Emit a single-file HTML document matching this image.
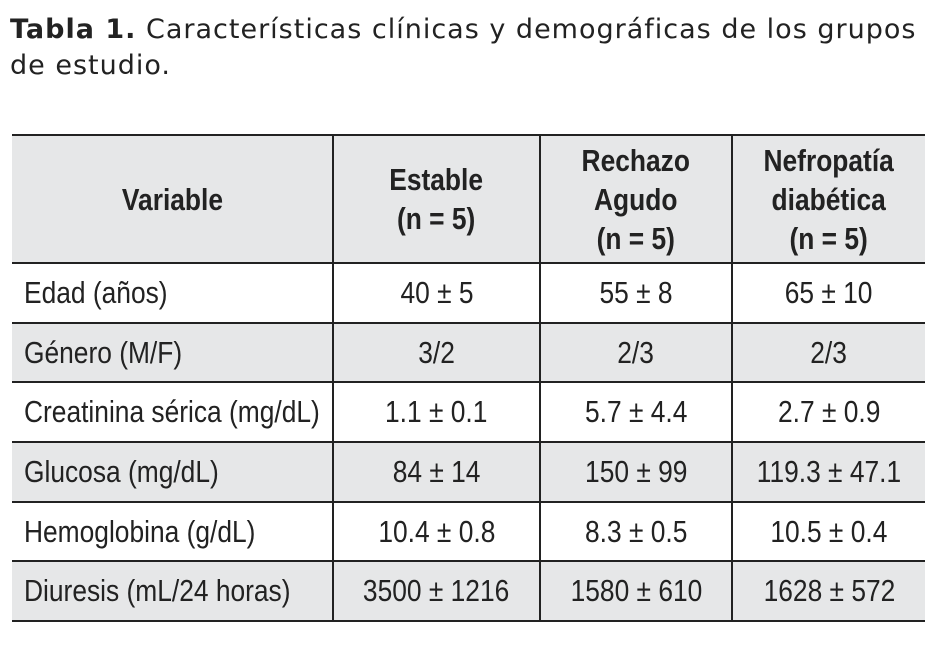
<!DOCTYPE html>
<html><head><meta charset="utf-8">
<style>
body{margin:0;width:941px;height:650px;background:#fff;overflow:hidden;position:relative;}
.title{position:absolute;left:10px;top:12px;font-family:"DejaVu Sans","Liberation Sans",sans-serif;font-size:27px;line-height:36px;color:#222;white-space:nowrap;letter-spacing:1.0px}
table{position:absolute;left:12px;top:134px;width:913px;border-collapse:collapse;table-layout:fixed;font-family:"Liberation Sans",sans-serif;color:#222;}
td,th{padding:0;text-align:center;font-size:31px;white-space:nowrap;overflow:visible;}
th{font-weight:bold;line-height:39px;background:#e6e7e8;height:126px;}
td{height:57.7px;}
tr{border-top:2px solid #222;}
tr:last-child{border-bottom:2px solid #222;}
td+td,th+th{border-left:2px solid #222;}
tr.g td{background:#e6e7e8;}
td.v{text-align:left;padding-left:12px;}
span{display:inline-block;transform:scaleX(0.85);}
td.v span{transform-origin:left center;}
</style></head><body>
<div class="title"><b>Tabla 1.</b> Características clínicas y demográficas de los grupos<br>de estudio.</div>
<table>
<colgroup><col style="width:321px"><col style="width:207px"><col style="width:192px"><col style="width:193px"></colgroup>
<tr><th><span>Variable</span></th><th><span>Estable<br>(n = 5)</span></th><th><span>Rechazo<br>Agudo<br>(n = 5)</span></th><th><span>Nefropatía<br>diabética<br>(n = 5)</span></th></tr>
<tr><td class="v"><span>Edad (años)</span></td><td><span>40 ± 5</span></td><td><span>55 ± 8</span></td><td><span>65 ± 10</span></td></tr>
<tr class="g"><td class="v"><span>Género (M/F)</span></td><td><span>3/2</span></td><td><span>2/3</span></td><td><span>2/3</span></td></tr>
<tr><td class="v"><span>Creatinina sérica (mg/dL)</span></td><td><span>1.1 ± 0.1</span></td><td><span>5.7 ± 4.4</span></td><td><span>2.7 ± 0.9</span></td></tr>
<tr class="g"><td class="v"><span>Glucosa (mg/dL)</span></td><td><span>84 ± 14</span></td><td><span>150 ± 99</span></td><td><span>119.3 ± 47.1</span></td></tr>
<tr><td class="v"><span>Hemoglobina (g/dL)</span></td><td><span>10.4 ± 0.8</span></td><td><span>8.3 ± 0.5</span></td><td><span>10.5 ± 0.4</span></td></tr>
<tr class="g"><td class="v"><span>Diuresis (mL/24 horas)</span></td><td><span>3500 ± 1216</span></td><td><span>1580 ± 610</span></td><td><span>1628 ± 572</span></td></tr>
</table>
</body></html>
